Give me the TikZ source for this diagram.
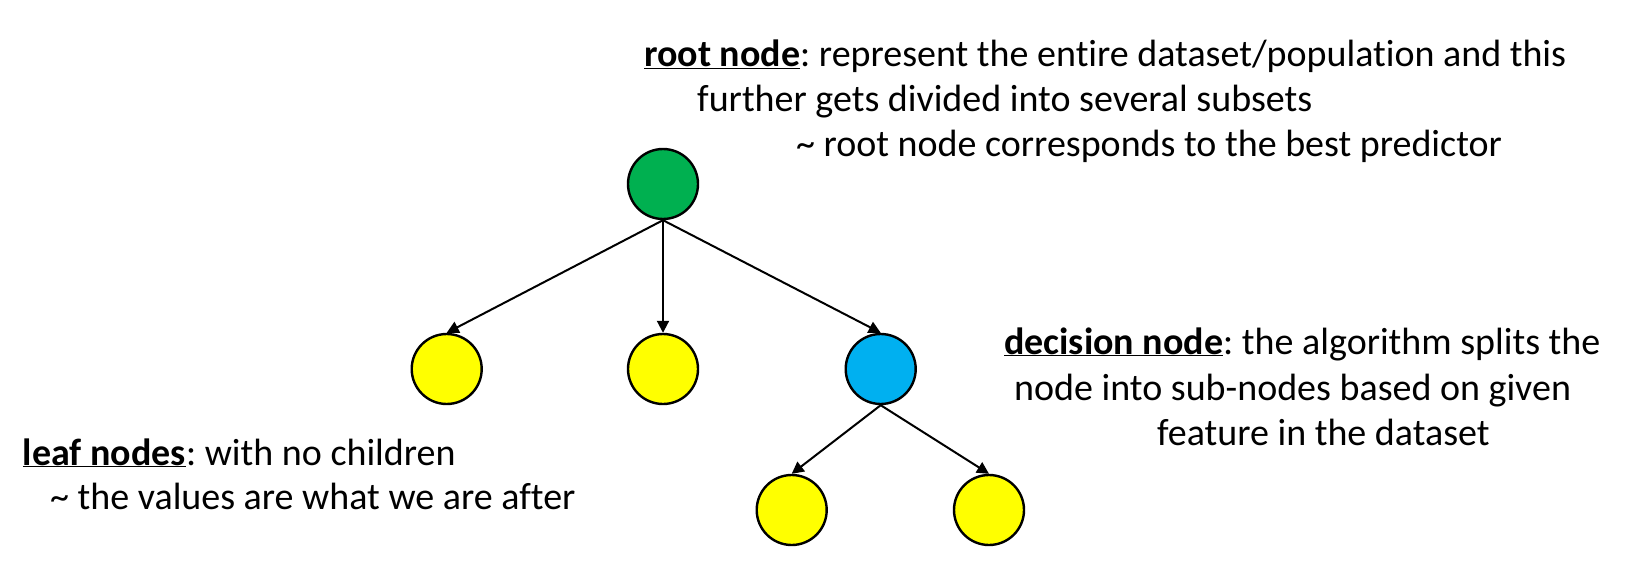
\documentclass[tikz,border=0pt]{standalone}
\usepackage{fontspec}
\setmainfont{Carlito}[Ligatures=NoCommon]
\frenchspacing
\usepackage{tikz}
\usetikzlibrary{arrows.meta}
\usetikzlibrary{positioning}
\definecolor{rootgreen}{HTML}{00B050}
\definecolor{leafyellow}{HTML}{FFFF00}
\definecolor{splitblue}{HTML}{00B0F0}
\newcommand{\tnode}[3]{\node(#1)[tree,fill=#3] at (#2) {}}
\newcommand{\tline}[3]{\node(#1)[txt] at (#2) {#3}}
\newcommand{\term}[1]{\underline{\textbf{#1}}}

\begin{document}
\begin{tikzpicture}[
        x=1pt, y=-1pt,
        every node/.style={font=\fontsize{38}{45}\selectfont},
        tree/.style={circle,minimum size=70pt,inner sep=0pt,
                     line width=2.4pt,draw=black},
        txt/.style={anchor=base west,inner sep=0pt},
        link/.style={line width=2pt,-{Triangle[length=12pt,width=12pt]}}
      ]
      \useasboundingbox (0,0) rectangle (1635,580);
      % tree
      \tnode{root}{663,184}{rootgreen};
      \tnode{leafa}{446.7,369}{leafyellow};
      \tnode{leafb}{663,369}{leafyellow};
      \tnode{split}{880.7,369}{splitblue};
      \tnode{leafc}{791.7,510}{leafyellow};
      \tnode{leafd}{989,510}{leafyellow};
      \foreach \child in {leafa,leafb,split}
        \draw[link] (root.south) -- (\child.north);
      \foreach \child in {leafc,leafd}
        \draw[link] (split.south) -- (\child.north);
      % labels
      \tline{rootA}{644,66.7}{\term{root node}: represent the entire dataset/population and this};
      \tline{rootB}{697,112}{further gets divided into several subsets};
      \tline{rootC}{796,157}{\textasciitilde\ root node corresponds to the best predictor};
      \tline{splitA}{1004,354}{\term{decision node}: the algorithm splits the};
      \tline{splitB}{1014,400}{node into sub-nodes based on given};
      \tline{splitC}{1157,445}{feature in the dataset};
      \tline{leafA}{22.7,465}{\term{leaf nodes}: with no children};
      \tline{leafB}{50,509}{\textasciitilde\ the values are what we are after};
    \end{tikzpicture}
\end{document}
